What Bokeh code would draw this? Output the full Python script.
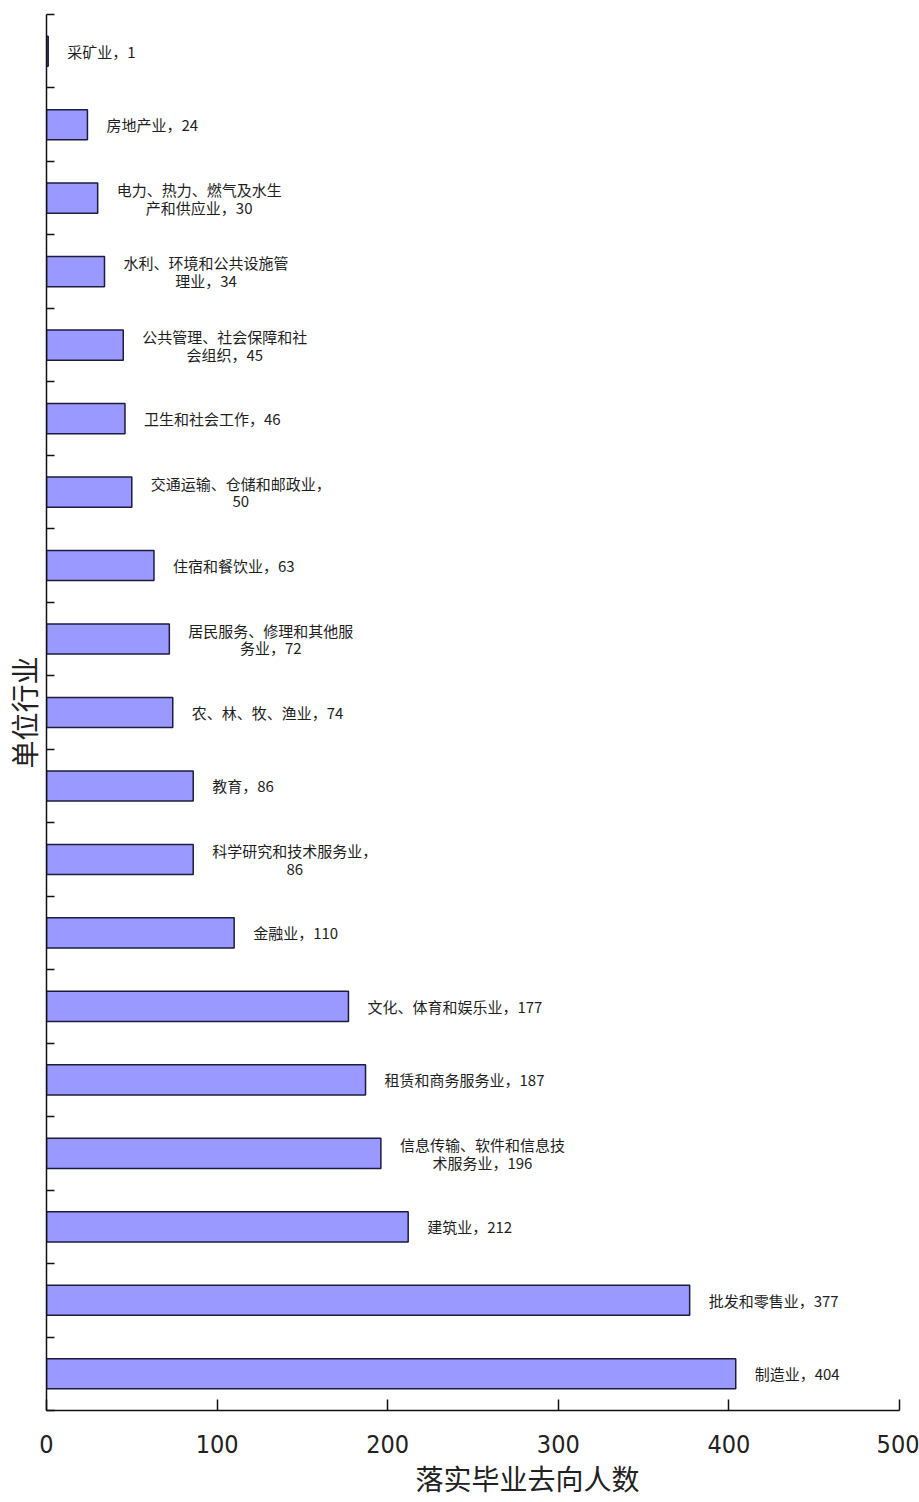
from bokeh.plotting import figure
from bokeh.models import Range1d, FixedTicker, Title, ColumnDataSource
from bokeh.embed import file_html
from bokeh.resources import INLINE
from bokeh.core.properties import value

# ---- data (top to bottom as in the chart) ----
industries = [
    "采矿业", "房地产业", "电力、热力、燃气及水生产和供应业", "水利、环境和公共设施管理业",
    "公共管理、社会保障和社会组织", "卫生和社会工作", "交通运输、仓储和邮政业", "住宿和餐饮业",
    "居民服务、修理和其他服务业", "农、林、牧、渔业", "教育", "科学研究和技术服务业",
    "金融业", "文化、体育和娱乐业", "租赁和商务服务业", "信息传输、软件和信息技术服务业",
    "建筑业", "批发和零售业", "制造业",
]
counts = [1, 24, 30, 34, 45, 46, 50, 63, 72, 74, 86, 86, 110, 177, 187, 196, 212, 377, 404]
# character position where the data label wraps to a second line (0 = single line)
wrap_at = [0, 0, 11, 11, 11, 0, 12, 0, 11, 0, 0, 11, 0, 0, 0, 11, 0, 0, 0]
x_ticks = [0, 100, 200, 300, 400, 500]
x_title = "落实毕业去向人数"
y_title = "单位行业"

n = len(industries)
ypos = [n - i - 0.5 for i in range(n)]

FS = 15  # label font size (px)


def est_width(s):
    return sum(FS if ord(c) > 255 else FS * 0.55 for c in s)


rows = {"left": dict(y=[], v=[], lab=[], off=[]), "center": dict(y=[], v=[], lab=[], off=[])}
for yy, name, c, w in zip(ypos, industries, counts, wrap_at):
    full = f"{name}，{c}"
    if w:
        l1, l2 = full[:w], full[w:]
        key, lab = "center", l1 + "\n" + l2
        off = 19 + max(est_width(l1), est_width(l2)) / 2
    else:
        key, lab, off = "left", full, 19
    rows[key]["y"].append(yy)
    rows[key]["v"].append(c)
    rows[key]["lab"].append(lab)
    rows[key]["off"].append(off)

src = ColumnDataSource(dict(y=ypos, v=counts))

p = figure(
    frame_width=853, frame_height=1396,
    x_range=Range1d(0, 500), y_range=Range1d(0, n),
    output_backend="svg", toolbar_location=None,
    min_border_left=38, min_border_top=14, min_border_right=20, min_border_bottom=0,
)
p.outline_line_color = None
p.xgrid.visible = False
p.ygrid.visible = False
p.background_fill_color = "white"
p.border_fill_color = "white"

p.hbar(y="y", right="v", left=0, height=0.41, source=src,
       fill_color="#9999ff", line_color="#1c1c40", line_width=1.5)

common = dict(text="lab", x_offset="off", text_baseline="middle",
              text_font=value("Noto Sans CJK SC"), text_font_size=f"{FS}px",
              text_color="#1e1e1e", text_line_height=0.85)
p.text(x="v", y="y", source=ColumnDataSource(rows["left"]), text_align="left", **common)
p.text(x="v", y="y", source=ColumnDataSource(rows["center"]), text_align="center", **common)

# x axis
xa = p.xaxis[0]
xa.ticker = FixedTicker(ticks=x_ticks)
xa.axis_line_color = "#111111"
xa.axis_line_width = 1.5
xa.major_tick_line_color = "#111111"
xa.major_tick_line_width = 1.5
xa.major_tick_in = 11
xa.major_tick_out = 0
xa.minor_tick_line_color = None
xa.major_label_text_font = "Liberation Sans Narrow, DejaVu Sans Condensed, sans-serif"
xa.major_label_text_font_size = "25px"
xa.major_label_text_color = "#222222"
xa.major_label_standoff = 24

# y axis
ya = p.yaxis[0]
ya.ticker = FixedTicker(ticks=list(range(n + 1)))
ya.axis_line_color = "#111111"
ya.axis_line_width = 1.5
ya.major_tick_line_color = "#111111"
ya.major_tick_line_width = 1.5
ya.major_tick_in = 8
ya.major_tick_out = 0
ya.minor_tick_line_color = None
ya.major_label_overrides = {i: "" for i in range(n + 1)}
ya.major_label_standoff = 0
ya.axis_label = y_title
ya.axis_label_text_font = "Noto Sans CJK SC"
ya.axis_label_text_font_style = "normal"
ya.axis_label_text_font_size = "28px"
ya.axis_label_text_color = "#222222"
ya.axis_label_standoff = 3

p.add_layout(Title(text=x_title, align="left", offset=369, standoff=0,
                   text_font="Noto Sans CJK SC", text_font_style="normal",
                   text_font_size="28px", text_color="#222222"), "below")

open("out.html", "w").write(file_html(p, INLINE))
